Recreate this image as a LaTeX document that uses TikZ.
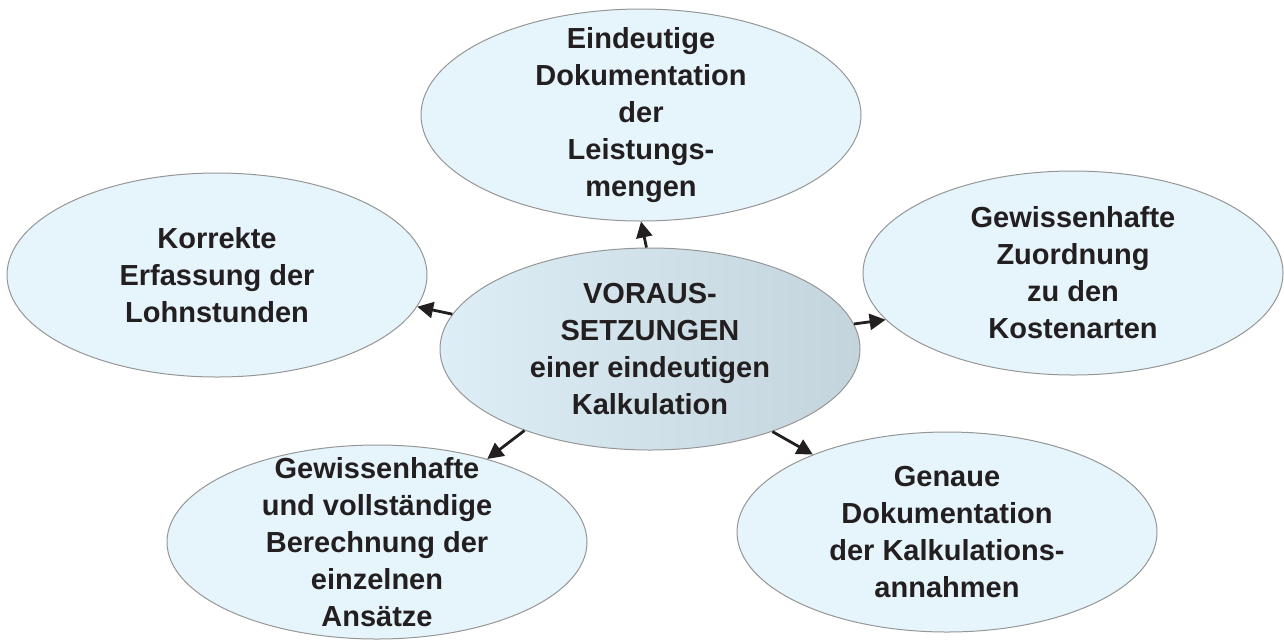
\documentclass[tikz,border=0pt]{standalone}
\usepackage{fontspec}
\setmainfont{Liberation Sans}
\usepackage{tikz}
\usetikzlibrary{arrows.meta, shapes.geometric, positioning}
\definecolor{OuterFill}{RGB}{230,244,252}
\definecolor{EdgeGray}{RGB}{150,150,150}
\definecolor{CoreLight}{RGB}{222,238,247}
\definecolor{CoreDark}{RGB}{196,212,221}
\definecolor{TextBlack}{RGB}{35,31,32}
\tikzstyle{goal} = [ellipse, draw=EdgeGray, line width=0.5pt, fill=OuterFill, inner xsep=0pt, inner ysep=-30pt, minimum width=210pt, minimum height=100pt, text=TextBlack, align=center, font=\fontsize{14.5}{18.5}\selectfont\bfseries]
\tikzstyle{core} = [goal, left color=CoreLight, right color=CoreDark, minimum height=101pt]
\tikzstyle{arrow} = [line width=1.4pt, TextBlack, -{Triangle[length=8pt,width=8pt]}]

\begin{document}
\begin{tikzpicture}[x=0.5pt, y=-0.5pt]
            \useasboundingbox (0,0) rectangle (1284,639);
            \node[core] (core) at (650,349) {VORAUS-\\SETZUNGEN\\einer eindeutigen\\Kalkulation};
            \node[goal, minimum width=220pt, minimum height=106pt] (menge) at (641,115) {Eindeutige\\Dokumentation\\der\\Leistungs-\\mengen};
            \node[goal, minimum height=102pt] (lohn) at (217,275) {Korrekte\\Erfassung der\\Lohnstunden};
            \node[goal, minimum height=102pt] (kosten) at (1073,273) {Gewissenhafte\\Zuordnung\\zu den\\Kostenarten};
            \node[goal, minimum height=97pt] (ansatz) at (377,542) {Gewissenhafte\\und vollständige\\Berechnung der\\einzelnen\\Ansätze};
            \node[goal] (annahme) at (947,532) {Genaue\\Dokumentation\\der Kalkulations-\\annahmen};

            \draw[arrow] (core.92) -- (menge.270);
            \draw[arrow] (core.170) -- (lohn.-9);
            \draw[arrow] (core.7) -- (kosten.194);
            \draw[arrow] (core.213) -- (ansatz.37);
            \draw[arrow] (core.-34) -- (annahme.150);
        \end{tikzpicture}
\end{document}
